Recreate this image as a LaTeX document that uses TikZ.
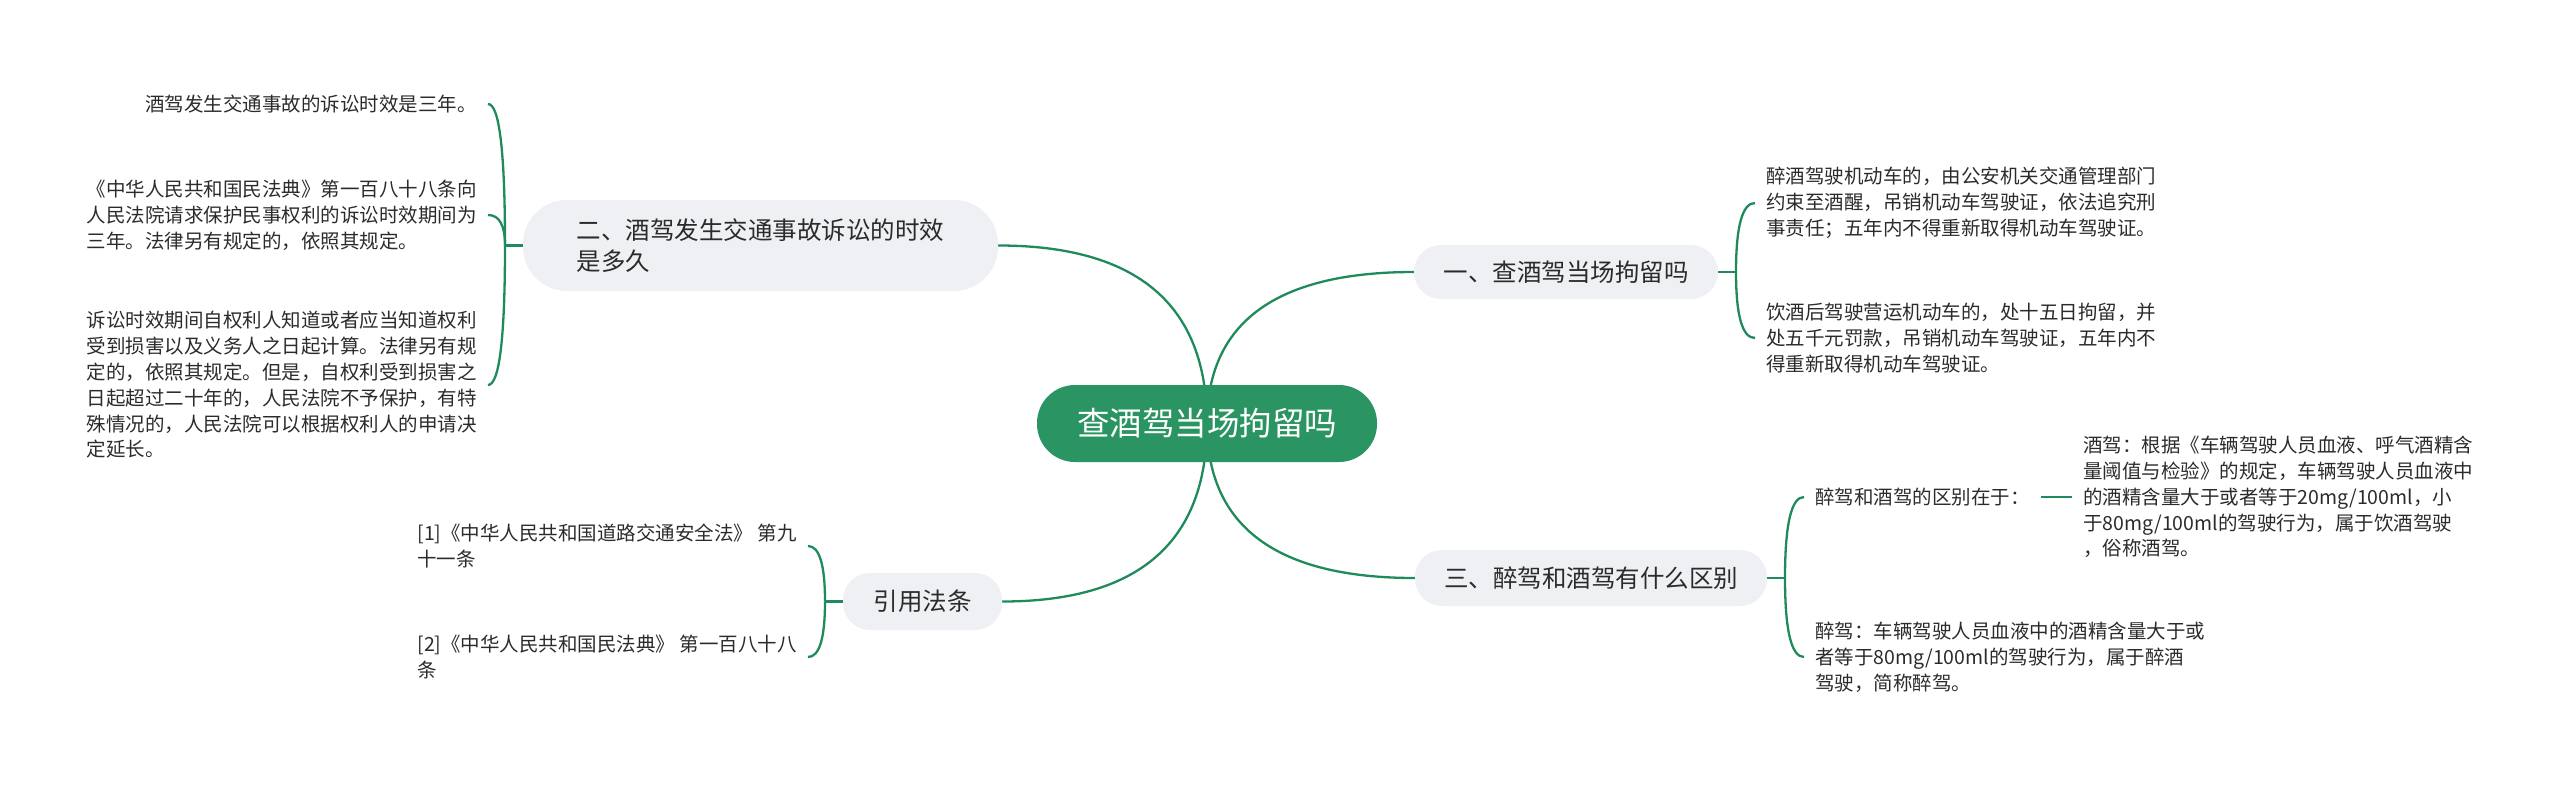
\documentclass[tikz,border=0pt]{standalone}
\usepackage{fontspec}
\newfontfamily\cjk{Noto Sans CJK SC}
\definecolor{mmgreen}{HTML}{2A9462}
\definecolor{mmline}{HTML}{1F8A5B}
\definecolor{mmgray}{HTML}{EEF0F3}
\definecolor{mmtext}{HTML}{2B2B2B}
\usetikzlibrary{calc,backgrounds}

\begin{document}
\begin{tikzpicture}[x=1pt,y=-1pt,
  rootnode/.style={fill=mmgreen,rounded corners=38pt,minimum width=340pt,minimum height=77pt,
    inner sep=0pt,text=white,font=\cjk\fontsize{32.5}{40}\selectfont},
  topicnode/.style={fill=mmgray,rounded corners=27pt,minimum height=56pt,inner sep=0pt,
    align=left,text=mmtext,font=\cjk\fontsize{24.5}{31}\selectfont},
  leafnode/.style={inner xsep=11pt,inner ysep=0pt,align=left,text=mmtext,
    font=\cjk\fontsize{19.5}{25.8}\selectfont},
  mmlink/.style={draw=mmline,line width=2.3pt},
  curvelink/.style={mmlink,to path={.. controls ($(\tikztostart)!2/3!(\tikztostart|-\tikztotarget)$)
    and ($(\tikztotarget)!2/3!(\tikztostart|-\tikztotarget)$) .. (\tikztotarget)}}
]
  \useasboundingbox (0,0) rectangle (2560,787);
  % Root
  \node[rootnode] (root) at (1207,423.5) {查酒驾当场拘留吗};
  % Topics
  \node[topicnode,minimum width=475pt,minimum height=91pt,rounded corners=44pt] (b2) at (760.5,245.5)
    {二、酒驾发生交通事故诉讼的时效\\是多久};
  \node[topicnode,minimum width=304pt,minimum height=54pt] (b1) at (1566,272) {一、查酒驾当场拘留吗};
  \node[topicnode,minimum width=352pt] (b3) at (1591,578) {三、醉驾和酒驾有什么区别};
  \node[topicnode,minimum width=159pt,minimum height=57pt] (b4) at (922.5,601.5) {引用法条};
  % Forks
  \coordinate (k2) at (505,245.5);
  \coordinate (k1) at (1736,272);
  \coordinate (k3) at (1785,578);
  \coordinate (k4) at (825,601.5);
  % Leaves of topic 2
  \node[leafnode,anchor=east] (l1) at (488,104) {酒驾发生交通事故的诉讼时效是三年。};
  \node[leafnode,anchor=east] (l2) at (488,215) {《中华人民共和国民法典》第一百八十八条向\\
    人民法院请求保护民事权利的诉讼时效期间为\\三年。法律另有规定的，依照其规定。};
  \node[leafnode,anchor=east] (l3) at (488,385) {诉讼时效期间自权利人知道或者应当知道权利\\
    受到损害以及义务人之日起计算。法律另有规\\定的，依照其规定。但是，自权利受到损害之\\
    日起超过二十年的，人民法院不予保护，有特\\殊情况的，人民法院可以根据权利人的申请决\\定延长。};
  % Leaves of topic 1
  \node[leafnode,anchor=west] (r1) at (1755,203) {醉酒驾驶机动车的，由公安机关交通管理部门\\
    约束至酒醒，吊销机动车驾驶证，依法追究刑\\事责任；五年内不得重新取得机动车驾驶证。};
  \node[leafnode,anchor=west] (r2) at (1755,338) {饮酒后驾驶营运机动车的，处十五日拘留，并\\
    处五千元罚款，吊销机动车驾驶证，五年内不\\得重新取得机动车驾驶证。};
  % Leaves of topic 3
  \node[leafnode,anchor=west] (t1) at (1804,497) {醉驾和酒驾的区别在于：};
  \node[leafnode,anchor=west] (s1) at (2072,497) {酒驾：根据《车辆驾驶人员血液、呼气酒精含\\
    量阈值与检验》的规定，车辆驾驶人员血液中\\的酒精含量大于或者等于20mg/100ml，小\\
    于80mg/100ml的驾驶行为，属于饮酒驾驶\\，俗称酒驾。};
  \node[leafnode,anchor=west] (t2) at (1804,657) {醉驾：车辆驾驶人员血液中的酒精含量大于或\\
    者等于80mg/100ml的驾驶行为，属于醉酒\\驾驶，简称醉驾。};
  % Citations
  \node[leafnode,anchor=east] (c1) at (808,546) {[1]《中华人民共和国道路交通安全法》 第九\\十一条};
  \node[leafnode,anchor=east] (c2) at (808,657) {[2]《中华人民共和国民法典》 第一百八十八\\条};
  % Links
  \begin{pgfonlayer}{background}
    \draw[curvelink] (root.center) to (b2.east);
    \draw[curvelink] (root.center) to (b1.west);
    \draw[curvelink] (root.center) to (b3.west);
    \draw[curvelink] (root.center) to (b4.east);
  \end{pgfonlayer}
  \draw[mmlink] (b2.west) -- (k2);
  \draw[mmlink] (b1.east) -- (k1);
  \draw[mmlink] (b3.east) -- (k3);
  \draw[mmlink] (b4.west) -- (k4);
  \draw[curvelink] (k2) to (l1.east);
  \draw[curvelink] (k2) to (l2.east);
  \draw[curvelink] (k2) to (l3.east);
  \draw[curvelink] (k1) to (r1.west);
  \draw[curvelink] (k1) to (r2.west);
  \draw[curvelink] (k3) to (t1.west);
  \draw[curvelink] (k3) to (t2.west);
  \draw[curvelink] (k4) to (c1.east);
  \draw[curvelink] (k4) to (c2.east);
  \draw[mmlink] (t1.east) -- (s1.west);
\end{tikzpicture}
\end{document}
